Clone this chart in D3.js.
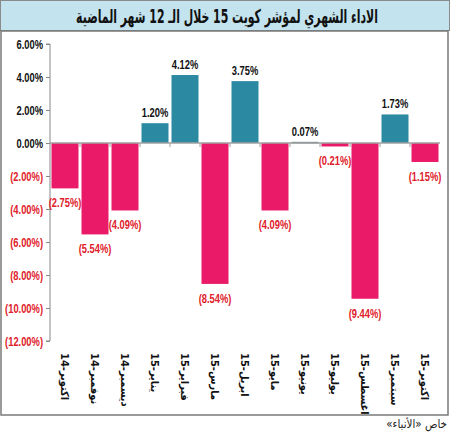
<!DOCTYPE html>
<html><head><meta charset="utf-8">
<script src="https://cdn.jsdelivr.net/npm/d3@7"></script>
<style>body{margin:0;background:#fff}svg{display:block}</style>
</head><body>
<svg id="c" width="450" height="434"></svg>
<script>
const titleText = "الاداء الشهري لمؤشر كويت 15 خلال الـ 12 شهر الماضية";
const footerText = "خاص «الأنباء»";
const months = ["14-اكتوبر","14-نوفمبر","14-ديسمبر","15-يناير","15-فبراير","15-مارس","15-ابريل","15-مايو","15-يونيو","15-يوليو","15-اغسطس","15-سبتمبر","15-اكتوبر"];
const values = [-2.75,-5.54,-4.09,1.20,4.12,-8.54,3.75,-4.09,0.07,-0.21,-9.44,1.73,-1.15];
const yTicks = [6,4,2,0,-2,-4,-6,-8,-10,-12];

const svg = d3.select("#c");
const numFont = "'Liberation Sans',Arial,sans-serif";
const arFont = "'DejaVu Sans Condensed','DejaVu Sans',sans-serif";
const SX = 0.72;

// title bar
svg.append("rect").attr("x",0.5).attr("y",0.5).attr("width",449).attr("height",30)
  .attr("fill","#c3e3ee").attr("stroke","#8a8a8a");
const title = svg.append("text")
  .attr("text-anchor","middle")
  .attr("font-family",arFont).attr("font-weight","bold").attr("font-size",19)
  .attr("fill","#111").text(titleText);
const tl = title.node().getComputedTextLength();
const ts = Math.min(1, 302 / tl);
title.attr("transform","translate(227,22.5) scale("+ts+",1)");

// frame
svg.append("rect").attr("x",1).attr("y",31).attr("width",447).attr("height",384)
  .attr("fill","#fff").attr("stroke","#7a7a7a").attr("stroke-width",1.5);

const y = d3.scaleLinear().domain([-12,6]).range([341,44]);
const x = d3.scaleBand().domain(months).range([50,440]).paddingInner(0.1).paddingOuter(0.05);

const fmt = v => v < 0 ? "(" + Math.abs(v).toFixed(2) + "%)" : v.toFixed(2) + "%";

// y axis
const yAxis = d3.axisLeft(y).tickValues(yTicks).tickSize(4).tickFormat(fmt);
const ga = svg.append("g").attr("transform","translate(50,0)").call(yAxis);
ga.select(".domain").attr("stroke","#888").attr("d","M-4,"+y(6)+"H0V"+y(-12)+"H-4");
ga.selectAll(".tick line").attr("stroke","#888");
ga.selectAll(".tick text").attr("font-family",numFont).attr("font-weight","bold").attr("font-size",13)
  .attr("x",-7/SX).attr("transform","scale("+SX+",1)")
  .attr("fill",d => d < 0 ? "#e0202a" : "#111");

// bars
svg.append("g").selectAll("rect").data(values).join("rect")
  .attr("x",(d,i)=>x(months[i]))
  .attr("width",x.bandwidth())
  .attr("y",d=>y(Math.max(0,d)))
  .attr("height",d=>Math.max(1.5,Math.abs(y(d)-y(0))))
  .attr("fill",d=> d < 0 ? "#ea1a68" : (d < 0.5 ? "#5f7f87" : "#2b89a1"));

// zero line with ticks at category boundaries
svg.append("line").attr("x1",50).attr("x2",440).attr("y1",y(0)).attr("y2",y(0))
  .attr("stroke","#a0a0a0").attr("stroke-width",1.5);
const bounds = months.slice(1).map(m => x(m) - x.step()*x.paddingInner()/2);
svg.append("g").selectAll("line").data(bounds).join("line")
  .attr("x1",d=>d).attr("x2",d=>d).attr("y1",y(0)).attr("y2",y(0)+4)
  .attr("stroke","#a0a0a0");

// value labels
svg.append("g").selectAll("text").data(values).join("text")
  .attr("transform",(d,i)=>"translate("+(x(months[i])+x.bandwidth()/2)+","+(d < 0 ? y(d)+19 : y(d)-6)+") scale("+SX+",1)")
  .attr("text-anchor","middle")
  .attr("font-family",numFont).attr("font-weight","bold").attr("font-size",13)
  .attr("fill",d=> d < 0 ? "#e0202a" : "#111")
  .text(fmt);

// category labels (rotated)
svg.append("g").selectAll("text").data(months).join("text")
  .attr("transform",d=>"translate("+(x(d)+x.bandwidth()/2-4)+",353) rotate(90)")
  .attr("text-anchor","start")
  .attr("font-family",arFont).attr("font-weight","bold").attr("font-size",11)
  .attr("fill","#111")
  .text(d=>d);

// footer
svg.append("text").attr("x",447).attr("y",428)
  .attr("direction","rtl").style("direction","rtl").style("unicode-bidi","embed")
  .attr("text-anchor","start")
  .attr("font-family",arFont).attr("font-size",11.5).attr("fill","#222")
  .text(footerText);
</script>
</body></html>
